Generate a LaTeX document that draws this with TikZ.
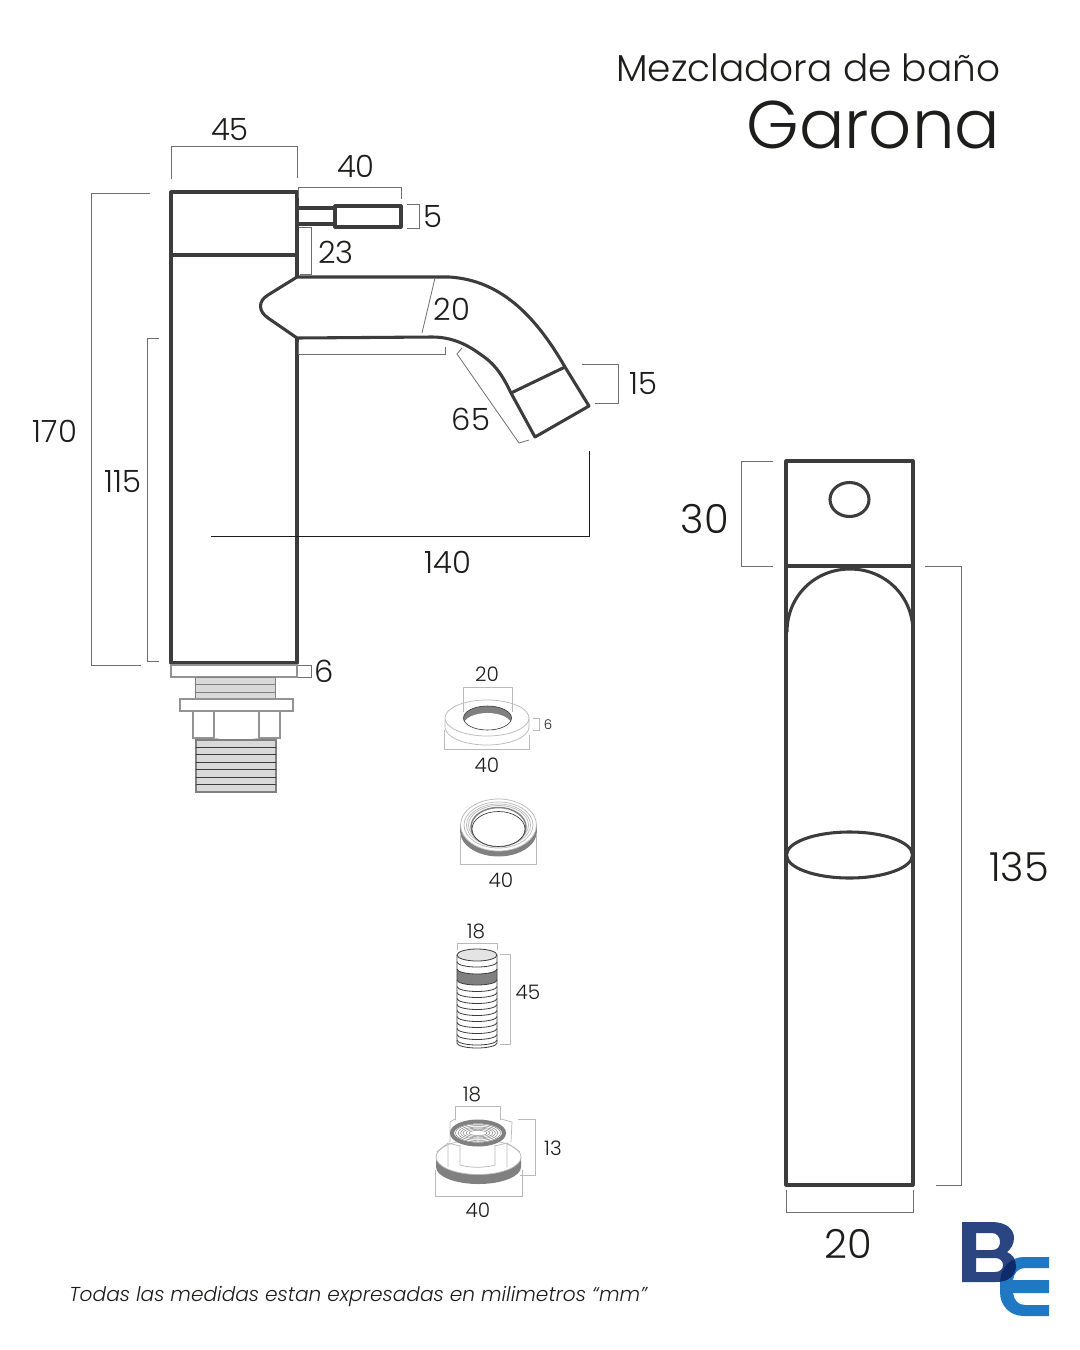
\documentclass[tikz,border=0pt]{standalone}
\usepackage{fontspec}
\setmainfont{Poppins}[UprightFont=* Light,ItalicFont=* Light Italic]
\definecolor{ink}{HTML}{1D1D1B}
\definecolor{body}{HTML}{3C3C3C}
\definecolor{dimc}{HTML}{6F6F6F}
\definecolor{lite}{HTML}{BABABA}
\definecolor{thread}{HTML}{D9D9D9}
\definecolor{band}{HTML}{808080}
\definecolor{logoB}{HTML}{2B4583}
\definecolor{logoE}{HTML}{1F78C1}
\definecolor{logoX}{HTML}{0E2A68}
\tikzset{
 mainl/.style={draw=body,line width=2.3pt,line join=round},
 dimline/.style={draw=dimc,line width=.6pt},
 thinb/.style={draw=ink,line width=.55pt},
 baseb/.style={draw=band!85,line width=1pt},
 litel/.style={draw=lite,line width=.55pt},
 threadl/.style={draw=body,line width=.6pt},
 lab/.style={inner sep=0pt,text=ink,font=\fontsize{23}{26}\selectfont},
 lab2/.style={inner sep=0pt,text=ink,font=\fontsize{15}{18}\selectfont},
 lab3/.style={inner sep=0pt,text=ink,font=\fontsize{10}{12}\selectfont},
 labbig/.style={inner sep=0pt,text=ink,font=\fontsize{30}{34}\selectfont},
}
\begin{document}
\begin{tikzpicture}[x=0.75pt,y=-0.75pt]
\useasboundingbox (0,0) rectangle (1080,1350);
\fill[white] (0,0) rectangle (1080,1350);
% titles
\node[lab,anchor=east,font=\fontsize{28.1}{34}\selectfont] (title1) at (1000.5,68) {Mezcladora de baño};
\node[lab,anchor=east,font=\fontsize{50.5}{60}\selectfont] (title2) at (1000.5,125) {Garona};
% faucet
\draw[mainl] (171,192) rectangle (297,663);
\draw[mainl] (171,255) -- (297,255);
\draw[mainl] (297,208) -- (335,208) (297,224) -- (335,224);
\draw[mainl] (335,206) rectangle (401,227);
\draw[mainl,fill=white] (297,277) -- (449,277) .. controls (500,280) and (535,315) .. (565,367) -- (589,406) -- (535,437) -- (511,393)
  .. controls (500,370) and (492,362) .. (480,354) .. controls (465,343) and (450,337) .. (432,337) -- (297,338)
  -- (268,318) .. controls (258,311) and (258,301) .. (268,295) -- cycle;
\draw[mainl] (297,255) -- (297,277) (297,338) -- (297,663);
\draw[mainl] (511,393) -- (565,367);
% faucet dims
\draw[dimline] (171,179) -- (171,146) -- (297,146) -- (297,178);
\draw[dimline] (298,198) -- (298,187) -- (401,187) -- (401,199);
\draw[dimline] (407,204) -- (419,204) -- (419,228) -- (407,228);
\draw[dimline] (299,227) -- (311,227) -- (311,274) -- (300,274);
\draw[dimline] (435,278) -- (422,333);
\draw[dimline] (298,342) -- (298,354) -- (445,354) -- (445,347);
\draw[dimline] (462,348) -- (457,354) -- (519,443) -- (529,440);
\draw[dimline] (582,364) -- (618,364) -- (618,403) -- (595,403);
\draw[thinb] (589,451) -- (589,536.5) -- (211,536.5);
\draw[dimline] (150,193) -- (91,193) -- (91,665) -- (141,665);
\draw[dimline] (159,338) -- (147,338) -- (147,661) -- (159,661);
\draw[dimline] (298,665) -- (311,665) -- (311,677) -- (298,677);
% base parts
\draw[baseb] (171,665) rectangle (297,677);
\draw[draw=band,line width=.7pt,fill=thread] (195,677) rectangle (275,699);
\foreach \y in {684,692} \draw[draw=band,line width=.7pt] (195,\y) -- (275,\y);
\draw[baseb,fill=white] (180,699) rectangle (293,711);
\draw[baseb] (193,711) rectangle (214,738);
\draw[baseb] (259,711) rectangle (280,738);
\draw[litel] (214,738) .. controls (228,741.5) and (245,741.5) .. (259,738);
\draw[draw=band,line width=.8pt,fill=thread] (196,740) rectangle (276,792);
\foreach \y in {747,754,762,769,777,784} \draw[threadl] (196,\y) -- (276,\y);
% right view
\draw[mainl] (786,461) rectangle (913,1185);
\draw[mainl] (786,566) -- (913,566);
\draw[mainl] (849.5,499.5) ellipse [x radius=19.5,y radius=17];
\draw[mainl] (787,632) .. controls (787,596) and (815,569) .. (850,569) .. controls (885,569) and (913,596) .. (913,632);
\draw[mainl] (849.5,855) ellipse [x radius=63,y radius=23];
\draw[dimline] (773,461) -- (741,461) -- (741,566) -- (773,566);
\draw[dimline] (925,566) -- (961,566) -- (961,1185) -- (936,1185);
\draw[dimline] (786,1190) -- (786,1212) -- (913,1212) -- (913,1190);
% part 1
\draw[litel,fill=white] (445,720) -- (445,727) arc[start angle=180,end angle=0,x radius=42,y radius=18] -- (529,718);
\draw[litel,fill=white] (487,718) ellipse [x radius=42,y radius=18];
\begin{scope}
\clip (487.5,718) ellipse [x radius=24,y radius=12];
\fill[band] (463,700) rectangle (512,735);
\fill[white] (487.5,725) ellipse [x radius=24,y radius=12];
\end{scope}
\draw[draw=body,line width=.45pt] (487.5,718) ellipse [x radius=24,y radius=12];
\draw[litel] (463,712) -- (463,687) -- (512,687) -- (512,712);
\draw[litel] (444,730) -- (444,749) -- (529,749) -- (529,735);
\draw[litel] (533,718) -- (539,718) -- (539,730) -- (533,730);
% part 2
\draw[draw=band,line width=.7pt,fill=band] (460.5,826) -- (460.5,831) arc[start angle=180,end angle=0,x radius=38,y radius=25] -- (536.5,826);
\draw[litel,fill=white] (498.5,825) ellipse [x radius=38,y radius=26];
\foreach \r/\s in {34.5/23,32/21,30/19.5} \draw[litel] (498.5,825) ellipse [x radius=\r,y radius=\s];
\draw[draw=band,line width=1.1pt] (498.5,827) ellipse [x radius=27.5,y radius=19.5];
\fill[white] (498.5,829) ellipse [x radius=26.5,y radius=17.5];
\draw[draw=body,line width=.5pt] (498.5,829) ellipse [x radius=26.5,y radius=17.5];
\draw[litel] (460,835) -- (460,864) -- (536,864) -- (536,835);
% part 3
\fill[white] (457,955) rectangle (497,1043);
\fill[band] (457,969) arc[start angle=180,end angle=0,x radius=20,y radius=5] -- (497,980) arc[start angle=0,end angle=180,x radius=20,y radius=5] -- cycle;
\draw[threadl] (457,955) -- (457,1043) arc[start angle=180,end angle=0,x radius=20,y radius=5] -- (497,955);
\foreach \y in {962,969,980,986.5,992.5,998.5,1004.5,1010.5,1016.5,1022.5,1028.5,1034.5,1040} \draw[threadl] (457,\y) arc[start angle=180,end angle=0,x radius=20,y radius=5];
\draw[threadl,fill=thread!70] (477,955) ellipse [x radius=20,y radius=6];
\draw[litel] (457,950) -- (457,943) -- (497,943) -- (497,950);
\draw[litel] (500,954) -- (510,954) -- (510,1044) -- (500,1044);
% part 4
\fill[band] (436,1157) -- (436,1167) arc[start angle=180,end angle=0,x radius=42.5,y radius=17] -- (521,1157) arc[start angle=0,end angle=180,x radius=42.5,y radius=17] -- cycle;
\draw[litel,fill=white] (478.5,1157) ellipse [x radius=42.5,y radius=17.5];
\draw[litel] (436.5,1152) -- (448,1143) -- (460,1146) (507,1143) -- (520,1152) (448,1143) -- (448,1167) (507,1143) -- (507,1167) (495,1146) -- (507,1143);
\draw[litel] (460,1145) -- (460,1165) (495,1145) -- (495,1165) (460,1165) .. controls (470,1168) and (485,1168) .. (495,1165);
\draw[litel] (450,1122) -- (450,1142) (512,1122) -- (511,1142) (450,1122) -- (455,1119) (501,1119) -- (512,1122);
\draw[draw=band,line width=3pt,fill=white] (478,1133) ellipse [x radius=26,y radius=11.5];
\foreach \r/\s in {22.5/9,20/7.5,17.5/6,15/5,12/3.8,9/2.6} \draw[draw=band,line width=.35pt] (478,1133) ellipse [x radius=\r,y radius=\s];
\draw[litel] (455,1120) -- (455,1106) -- (500,1106) -- (500,1120);
\draw[litel] (518,1119) -- (535,1119) -- (535,1175) -- (520,1175);
\draw[litel] (435,1170) -- (435,1196) -- (522,1196) -- (522,1170);
% labels
\node[lab] (d45) at (230,130) {45};
\node[lab] (d40) at (356,166) {40};
\node[lab] (d5) at (433,217) {5};
\node[lab] (d23) at (336,252) {23};
\node[lab] (d20) at (452,309) {20};
\node[lab] (d15) at (643,384) {15};
\node[lab] (d65) at (471,419) {65};
\node[lab] (d170) at (55,431) {170};
\node[lab] (d115) at (123,482) {115};
\node[lab] (d140) at (448,562) {140};
\node[lab] (d6) at (324,671) {6};
\node[labbig] (d30) at (705,519) {30};
\node[labbig] (d135) at (1019,867) {135};
\node[labbig] (d20b) at (848,1244) {20};
\node[lab2] (p20) at (487,674) {20};
\node[lab3] (p6) at (548,725) {6};
\node[lab2] (p40) at (487,765) {40};
\node[lab2] (q40) at (501,880) {40};
\node[lab2] (r18) at (476,931) {18};
\node[lab2] (r45) at (528,992) {45};
\node[lab2] (s18) at (472,1094) {18};
\node[lab2] (s13) at (553,1148) {13};
\node[lab2] (s40) at (478,1210) {40};
\node[inner sep=0pt,text=ink,anchor=west,font=\fontsize{15.1}{18}\selectfont\itshape] (foot) at (69,1297) {Todas las medidas estan expresadas en milimetros “mm”};
% logo
\def\pathB{(962,1222) -- (992,1222) .. controls (1006,1222) and (1014,1229) .. (1014,1238) .. controls (1014,1244) and (1011,1249) .. (1007,1252) .. controls (1012,1254) and (1016,1259) .. (1016,1266) .. controls (1016,1276) and (1008,1282) .. (996,1282) -- (962,1282) -- cycle
 (976,1233) -- (976,1250) -- (992,1250) .. controls (998,1250) and (1000,1246) .. (1000,1242) .. controls (1000,1237) and (997,1233) .. (992,1233) -- cycle
 (976,1258) -- (976,1272) -- (995,1272) .. controls (1000,1272) and (1003,1269) .. (1003,1265) .. controls (1003,1261) and (1000,1258) .. (995,1258) -- cycle}
\def\pathE{(1049,1257) -- (1024,1257) .. controls (1010,1257) and (1000,1268) .. (1000,1282) -- (1000,1292) .. controls (1000,1306) and (1010,1316) .. (1024,1316) -- (1049,1316) -- (1049,1305) -- (1025,1305) .. controls (1018,1305) and (1014,1300) .. (1013,1293) -- (1049,1293) -- (1049,1280) -- (1013,1280) .. controls (1014,1273) and (1018,1268) .. (1025,1268) -- (1049,1268) -- cycle}
\fill[logoB] \pathB;
\fill[logoE] \pathE;
\begin{scope}
\clip \pathE;
\fill[logoX] \pathB;
\end{scope}
\end{tikzpicture}
\end{document}
